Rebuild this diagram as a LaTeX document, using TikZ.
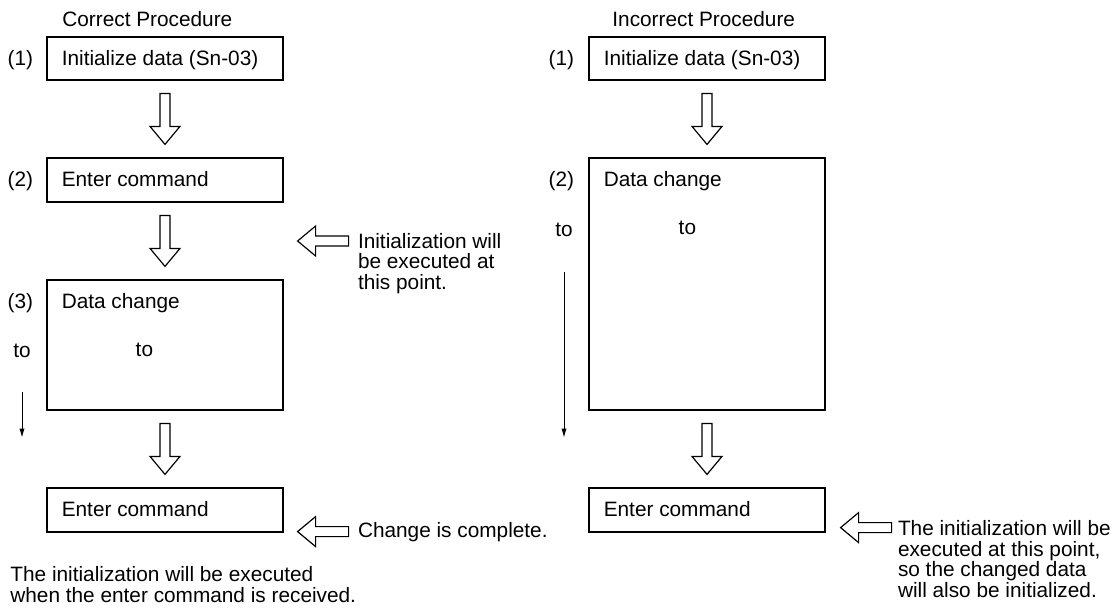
\documentclass[tikz,border=0pt]{standalone}
\usepackage{fontspec}
\setmainfont{Liberation Sans}
\usetikzlibrary{calc,arrows.meta}

\tikzset{
  box/.style={draw, line width=0.6pt, minimum width=118pt, inner sep=0pt},
  txt/.style={inner sep=0pt, font=\fontsize{10.4}{10.35}\selectfont},
  note/.style={txt, align=left},
  thinarrow/.style={line width=0.5pt, -{Latex[length=4.5pt,width=2.6pt]}},
  blockarrow/.pic={
    \draw[line width=0.6pt, line join=miter]
      (0,0) -- (-18,15) -- (-18,5) -- (-51,5) -- (-51,-5) -- (-18,-5) -- (-18,-15) -- cycle;
  }
}

\begin{document}
\begin{tikzpicture}[x=0.5pt,y=0.5pt]
    \useasboundingbox (0,0) rectangle (1120,-612);

    % CORRECT PROCEDURE (left column)
    \node[txt, anchor=base west] (ctitle) at (62,-26) {Correct Procedure};
    \node[box, minimum height=21.5pt] (b1) at (165,-58.5) {};
    \node[box, minimum height=22pt] (b2) at (165,-180) {};
    \node[box, minimum height=65pt] (b3) at (165,-345) {};
    \node[box, minimum height=22pt] (b4) at (165,-510) {};

    % texts in the boxes
    \node[txt, anchor=base west] (t1) at ($(b1.north west)+(15,-29.5)$) {Initialize data (Sn-03)};
    \node[txt, anchor=base west] (t2) at ($(b2.north west)+(15,-29.5)$) {Enter command};
    \node[txt, anchor=base west] (t3) at ($(b3.north west)+(15,-29.5)$) {Data change};
    \node[txt, anchor=base] (t3to) at ($(b3.north west)+(98,-77)$) {to};
    \node[txt, anchor=base west] (t4) at ($(b4.north west)+(15,-29.5)$) {Enter command};

    % step numbers
    \node[txt, anchor=base east] (n1) at ($(b1.north west)+(-13,-29.5)$) {(1)};
    \node[txt, anchor=base east] (n2) at ($(b2.north west)+(-13,-29.5)$) {(2)};
    \node[txt, anchor=base east] (n3) at ($(b3.north west)+(-13,-29.5)$) {(3)};
    \node[txt, anchor=base] (to1) at (22,-357) {to};
    \coordinate (e1) at ($(to1.base |- b3.south)+(0,-27)$);
    \draw[thinarrow] ($(to1.base)+(0,-35)$) -- (e1);

    % hollow arrows between the boxes
    \pic[rotate=-90] at ($(b2.north)+(0,13)$) {blockarrow};
    \pic[rotate=-90] at ($(b3.north)+(0,13)$) {blockarrow};
    \pic[rotate=-90] at ($(b4.north)+(0,13)$) {blockarrow};

    % remarks (base = last line)
    \coordinate (a1) at ($(b2.south east)!0.5!(b3.north east)+(14,0)$);
    \pic[rotate=180] at (a1) {blockarrow};
    \node[note, anchor=base west] (r1) at ($(a1)+(60,-48.5)$) {Initialization will\\be executed at\\this point.};
    \coordinate (a2) at ($(b4.south east)+(14,1)$);
    \pic[rotate=180] at (a2) {blockarrow};
    \node[txt, anchor=base west] (r2) at ($(a2)+(60,-6)$) {Change is complete.};
    \node[note, anchor=base west] (r3) at (10,-602) {The initialization will be executed\\when the enter command is received.};

    % INCORRECT PROCEDURE (right column)
    \node[txt, anchor=base west] (ititle) at (612,-26) {Incorrect Procedure};
    \node[box, minimum height=21.5pt] (rb1) at (707,-58.5) {};
    \node[box, minimum height=126pt] (rb2) at (707,-284) {};
    \node[box, minimum height=22pt] (rb3) at (707,-510) {};

    \node[txt, anchor=base west] (rt1) at ($(rb1.north west)+(15,-29.5)$) {Initialize data (Sn-03)};
    \node[txt, anchor=base west] (rt2) at ($(rb2.north west)+(15,-29.5)$) {Data change};
    \node[txt, anchor=base] (rt2to) at ($(rb2.north west)+(99,-77)$) {to};
    \node[txt, anchor=base west] (rt3) at ($(rb3.north west)+(15,-29.5)$) {Enter command};

    \node[txt, anchor=base east] (rn1) at ($(rb1.north west)+(-14,-29.5)$) {(1)};
    \node[txt, anchor=base east] (rn2) at ($(rb2.north west)+(-14,-29.5)$) {(2)};
    \node[txt, anchor=base] (to2) at (564,-236) {to};
    \coordinate (e2) at ($(to2.base |- rb2.south)+(0,-27)$);
    \draw[thinarrow] ($(to2.base)+(0,-36)$) -- (e2);

    \pic[rotate=-90] at ($(rb2.north)+(0,13)$) {blockarrow};
    \pic[rotate=-90] at ($(rb3.north)+(0,13)$) {blockarrow};

    \coordinate (a3) at ($(rb3.south east)+(15,5)$);
    \pic[rotate=180] at (a3) {blockarrow};
    \node[note, anchor=base west] (r4) at ($(a3)+(57,-70)$) {The initialization will be\\executed at this point,\\so the changed data\\will also be initialized.};
\end{tikzpicture}
\end{document}
